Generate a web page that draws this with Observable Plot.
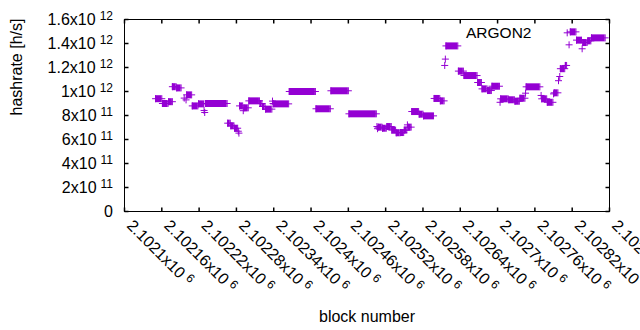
<!DOCTYPE html>
<html><head><meta charset="utf-8">
<script src="https://cdn.jsdelivr.net/npm/d3@7"></script>
<script src="https://cdn.jsdelivr.net/npm/@observablehq/plot@0.6"></script>
<style>
html,body{margin:0;padding:0;background:#fff;}
#chart svg{display:block;}
</style></head><body><div id="chart"></div>
<script>
// Runs of consecutive blocks that share one hashrate estimate (block numbers, h/s)
const runStart = [2102150,2102161,2102171,2102177,2102184,2102196,2102199,2102200,2102209,2102219,2102228,2102229,2102230,2102266,2102271,2102277,2102283,2102284,2102285,2102291,2102292,2102300,2102318,2102322,2102327,2102338,2102339,2102340,2102365,2102408,2102432,2102461,2102506,2102507,2102508,2102515,2102522,2102530,2102537,2102544,2102550,2102555,2102556,2102562,2102574,2102581,2102598,2102608,2102615,2102616,2102617,2102637,2102646,2102668,2102675,2102684,2102691,2102704,2102705,2102718,2102728,2102736,2102745,2102746,2102770,2102771,2102780,2102790,2102791,2102798,2102800,2102801,2102809,2102812,2102815,2102817,2102827,2102836,2102837,2102845,2102851];
const runEnd   = [2102160,2102170,2102177,2102183,2102191,2102196,2102199,2102208,2102218,2102227,2102228,2102229,2102265,2102270,2102276,2102282,2102283,2102284,2102290,2102291,2102299,2102317,2102321,2102326,2102337,2102338,2102339,2102364,2102407,2102431,2102460,2102505,2102506,2102507,2102514,2102521,2102529,2102536,2102543,2102549,2102554,2102555,2102561,2102573,2102580,2102597,2102607,2102614,2102615,2102616,2102636,2102645,2102667,2102674,2102683,2102690,2102703,2102704,2102717,2102727,2102735,2102744,2102745,2102768,2102770,2102779,2102789,2102790,2102797,2102798,2102800,2102808,2102811,2102812,2102815,2102826,2102835,2102836,2102844,2102850,2102873];
const runValue = [9.40e11,9.00e11,9.15e11,1.040e12,1.030e12,9.45e11,9.30e11,9.72e11,8.80e11,8.97e11,8.42e11,8.25e11,9.00e11,7.36e11,7.14e11,6.94e11,6.69e11,6.53e11,8.80e11,8.40e11,8.64e11,9.22e11,9.00e11,8.75e11,8.53e11,9.20e11,9.00e11,8.97e11,1.000e12,8.56e11,1.006e12,8.14e11,7.08e11,6.90e11,7.03e11,6.94e11,7.08e11,6.78e11,6.56e11,6.58e11,6.78e11,7.22e11,7.03e11,8.33e11,8.11e11,7.97e11,9.42e11,9.22e11,1.217e12,1.270e12,1.380e12,1.170e12,1.133e12,1.075e12,1.022e12,1.008e12,1.044e12,9.10e11,9.39e11,9.31e11,9.19e11,9.44e11,9.86e11,1.039e12,9.67e11,9.39e11,9.10e11,9.80e11,9.89e11,1.090e12,1.125e12,1.190e12,1.217e12,1.489e12,1.389e12,1.497e12,1.428e12,1.356e12,1.408e12,1.422e12,1.447e12];

const xTicks = [2102100,2102160,2102220,2102280,2102340,2102400,2102460,2102520,2102580,2102640,2102700,2102760,2102820,2102880];
const xTickLabels = ["2.1021x10^6","2.10216x10^6","2.10222x10^6","2.10228x10^6","2.10234x10^6","2.1024x10^6","2.10246x10^6","2.10252x10^6","2.10258x10^6","2.10264x10^6","2.1027x10^6","2.10276x10^6","2.10282x10^6","2.10288x10^6"];
const yTicks = [0,2e11,4e11,6e11,8e11,1e12,1.2e12,1.4e12,1.6e12];
const yTickLabels = ["0","2x10^11","4x10^11","6x10^11","8x10^11","1x10^12","1.2x10^12","1.4x10^12","1.6x10^12"];
const xTitle = "block number";
const yTitle = "hashrate [h/s]";
const seriesTitle = "ARGON2";

const COLOR = "#9400d3";
const FONT = "'Liberation Sans', Arial, sans-serif";
const FS = 16;

const runs = runStart.map((s, i) => ({start: s, end: runEnd[i], value: runValue[i]}));
const pts = runs.flatMap(d => d.start === d.end ? [{b: d.start, v: d.value}] : [{b: d.start, v: d.value}, {b: d.end, v: d.value}]);

const rOf = size => Math.sqrt(size / Math.PI);
const plusSym = {draw(c, s) { const r = rOf(s); c.moveTo(-r, 0); c.lineTo(r, 0); c.moveTo(0, -r); c.lineTo(0, r); }};
const tickUp = {draw(c, s) { const r = rOf(s); c.moveTo(0, 0); c.lineTo(0, -r); }};
const tickDown = {draw(c, s) { const r = rOf(s); c.moveTo(0, 0); c.lineTo(0, r); }};
const tickRight = {draw(c, s) { const r = rOf(s); c.moveTo(0, 0); c.lineTo(r, 0); }};
const tickLeft = {draw(c, s) { const r = rOf(s); c.moveTo(0, 0); c.lineTo(-r, 0); }};

const xDom = [xTicks[0], xTicks[xTicks.length - 1]];
const yDom = [yTicks[0], yTicks[yTicks.length - 1]];

const plot = Plot.plot({
  width: 640, height: 330,
  marginLeft: 124, marginRight: 31, marginTop: 19, marginBottom: 119,
  style: {fontFamily: FONT, fontSize: FS + "px", background: "#fff", color: "#000"},
  x: {domain: xDom, axis: null},
  y: {domain: yDom, axis: null},
  marks: [
    Plot.ruleY(runs, {x1: "start", x2: "end", y: "value", stroke: COLOR, strokeWidth: 7}),
    Plot.dot(pts, {x: "b", y: "v", symbol: plusSym, r: 3.5, stroke: COLOR, fill: "none", strokeWidth: 1}),
    Plot.frame({stroke: "#000", strokeWidth: 1}),
    Plot.dot(xTicks, {x: d => d, y: () => yDom[0], symbol: tickUp, r: 4, stroke: "#000", fill: "none"}),
    Plot.dot(xTicks, {x: d => d, y: () => yDom[1], symbol: tickDown, r: 4, stroke: "#000", fill: "none"}),
    Plot.dot(yTicks, {y: d => d, x: () => xDom[0], symbol: tickRight, r: 4, stroke: "#000", fill: "none"}),
    Plot.dot(yTicks, {y: d => d, x: () => xDom[1], symbol: tickLeft, r: 4, stroke: "#000", fill: "none"}),
    Plot.text(yTicks, {y: d => d, text: (d, i) => yTickLabels[i], frameAnchor: "left", textAnchor: "end", dx: -11.5, fontSize: FS, fill: "#000"}),
    Plot.text(xTicks, {x: d => d, text: (d, i) => xTickLabels[i], frameAnchor: "bottom", textAnchor: "start", rotate: 45, dx: 1.5, dy: 15, fontSize: FS, fill: "#000"}),
    Plot.text([xTitle], {text: d => d, frameAnchor: "bottom", lineAnchor: "bottom", dy: 110, fontSize: FS, fill: "#000"}),
    Plot.text([yTitle], {text: d => d, frameAnchor: "left", rotate: -90, dx: -108, fontSize: FS, fill: "#000"}),
    Plot.text([seriesTitle], {text: d => d, frameAnchor: "top-right", textAnchor: "end", lineAnchor: "bottom", dx: -78, dy: 18.5, fontSize: 15.5, fill: "#000"})
  ]
});

// gnuplot-style superscripts: "base^exp"
d3.select(plot).selectAll("text").each(function () {
  const t = this.textContent;
  if (t.includes("^")) {
    const [b, e] = t.split("^");
    this.textContent = b;
    const ts = document.createElementNS("http://www.w3.org/2000/svg", "tspan");
    ts.setAttribute("dx", "4");
    ts.setAttribute("dy", "-5");
    ts.setAttribute("font-size", "12");
    ts.textContent = e;
    this.appendChild(ts);
  }
});

document.getElementById("chart").appendChild(plot);
</script>
</body></html>
